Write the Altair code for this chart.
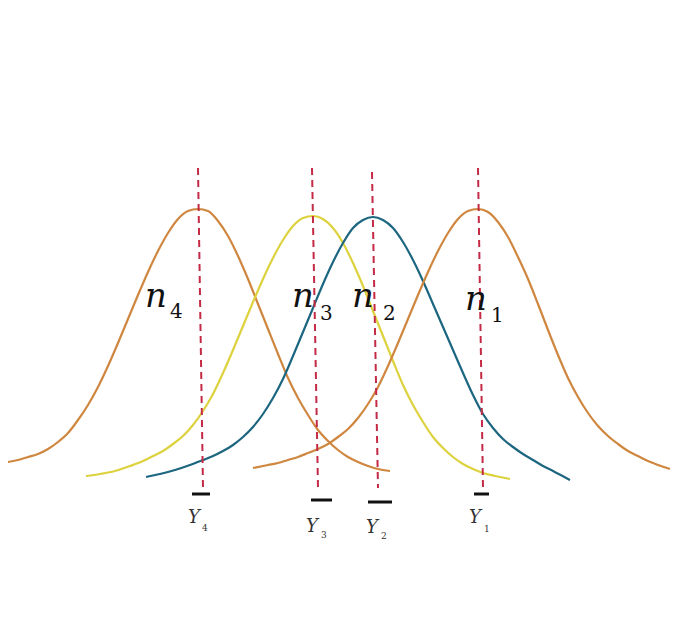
import altair as alt
import pandas as pd

# ---- curve samples (x, y in picture pixels, y downward) ----
x_n4 = [0, 8, 18, 28, 38, 48, 58, 68, 78, 88, 98, 108, 118, 128, 138, 148, 158, 168, 178, 188, 198,
        208, 218, 228, 238, 248, 258, 268, 278, 288, 298, 308, 318, 328, 338, 348, 358, 368, 378, 390]
y_n4 = [463, 462, 460, 457, 454, 449, 442, 433, 420, 405, 387, 366, 343, 319, 295, 272, 251, 233, 219, 211, 209,
        211, 221, 236, 256, 279, 304, 329, 354, 378, 398, 415, 430, 441, 450, 457, 462, 466, 469, 471]

x_n3 = [86, 100, 115, 130, 143, 153, 163, 173, 183, 193, 203, 213, 223, 233, 243, 253, 263, 273, 283, 293, 303, 313,
        323, 333, 343, 353, 363, 373, 383, 393, 403, 413, 423, 433, 443, 453, 463, 473, 483, 495, 510]
y_n3 = [476, 474, 471, 466, 461, 456, 451, 444, 436, 425, 411, 394, 373, 350, 326, 302, 279, 258, 240, 226, 218, 216,
        219, 228, 243, 263, 286, 311, 336, 361, 385, 405, 422, 437, 448, 457, 464, 469, 473, 476, 479]

x_n2 = [146, 160, 175, 190, 203, 213, 223, 233, 243, 253, 263, 273, 283, 293, 303, 313, 323, 333, 343, 353, 363, 373,
        383, 393, 403, 413, 423, 433, 443, 453, 463, 473, 483, 493, 503, 513, 523, 533, 543, 553, 570]
y_n2 = [477, 474, 470, 465, 460, 456, 451, 445, 437, 427, 414, 398, 379, 356, 332, 308, 284, 262, 243, 228, 220, 217,
        220, 228, 242, 260, 281, 304, 327, 350, 373, 395, 414, 428, 439, 447, 454, 460, 466, 471, 480]

x_n1 = [253, 268, 278, 288, 298, 308, 318, 328, 338, 348, 358, 368, 378, 388, 398, 408, 418, 428, 438, 448, 458, 468, 478,
        488, 498, 508, 518, 528, 538, 548, 558, 568, 578, 588, 598, 608, 618, 628, 638, 648, 658, 670]
y_n1 = [468, 465, 463, 460, 457, 453, 449, 444, 437, 429, 418, 404, 387, 366, 343, 319, 295, 272, 251, 233, 219, 211, 209,
        212, 222, 237, 257, 279, 304, 330, 355, 378, 397, 413, 426, 436, 444, 451, 456, 461, 465, 469]

curve_names = ["n4", "n3", "n2", "n1"]
curve_colors = ["#CF8740", "#DDD23E", "#1D6680", "#CF8740"]

# dashed mean lines
mean_top_x = [198, 312, 372, 478]
mean_bot_x = [203, 318, 378, 483]
mean_top_y = [168, 168, 172, 168]
mean_bot_y = [488, 488, 488, 488]

# overbars of the Y means
bar_x1 = [192, 311, 368, 474]
bar_x2 = [210, 332, 392, 489]
bar_y = [494, 500, 502, 494]

# n labels
n_text = ["n", "n", "n", "n"]
n_x = [145, 292, 352, 465]
n_y = [307, 307, 307, 310]
n_sub = ["4", "3", "2", "1"]
n_sub_x = [170, 320, 383, 491]
n_sub_y = [318, 320, 320, 322]

# Y labels
y_text = ["Y", "Y", "Y", "Y"]
y_x = [188, 306, 366, 469]
y_y = [523, 532, 533, 523]
y_sub = ["4", "3", "2", "1"]
y_sub_x = [202, 321, 381, 484]
y_sub_y = [531, 538, 539, 532]

# ---- build tables ----
rows = []
for name, xs_, ys_ in [("n4", x_n4, y_n4), ("n3", x_n3, y_n3), ("n2", x_n2, y_n2), ("n1", x_n1, y_n1)]:
    for i, (a, b) in enumerate(zip(xs_, ys_)):
        rows.append({"curve": name, "x": a, "y": b, "order": i})
curves = pd.DataFrame(rows)

means = pd.DataFrame({"x": mean_top_x, "x2": mean_bot_x, "y": mean_top_y, "y2": mean_bot_y})
bars = pd.DataFrame({"x": bar_x1, "x2": bar_x2, "y": bar_y})
nlab = pd.DataFrame({"t": n_text, "x": n_x, "y": n_y})
nsub = pd.DataFrame({"t": n_sub, "x": n_sub_x, "y": n_sub_y})
ylab = pd.DataFrame({"t": y_text, "x": y_x, "y": y_y})
ysub = pd.DataFrame({"t": y_sub, "x": y_sub_x, "y": y_sub_y})

xs = alt.Scale(domain=[8, 682], nice=False, zero=False)
ys = alt.Scale(domain=[8, 625], nice=False, zero=False, reverse=True)


def X(f="x"):
    return alt.X(f"{f}:Q", scale=xs, axis=None)


def Y(f="y"):
    return alt.Y(f"{f}:Q", scale=ys, axis=None)


layers = []
for name, col in zip(curve_names, curve_colors):
    layers.append(
        alt.Chart(curves[curves.curve == name]).mark_line(
            color=col, strokeWidth=2.2, interpolate="monotone", clip=True
        ).encode(x=X(), y=Y(), order="order:Q")
    )

rules = alt.Chart(means).mark_rule(color="#C42A45", strokeWidth=2, strokeDash=[7, 5]).encode(
    x=X(), x2="x2:Q", y=Y(), y2="y2:Q"
)
overbars = alt.Chart(bars).mark_rule(color="#111111", strokeWidth=3).encode(
    x=X(), x2="x2:Q", y=Y()
)

font = "DejaVu Serif"
t_n = alt.Chart(nlab).mark_text(font=font, fontSize=34, fontStyle="italic", align="left",
                                baseline="alphabetic", color="#111111").encode(x=X(), y=Y(), text="t:N")
t_ns = alt.Chart(nsub).mark_text(font=font, fontSize=20, align="left",
                                 baseline="alphabetic", color="#111111").encode(x=X(), y=Y(), text="t:N")
t_y = alt.Chart(ylab).mark_text(font=font, fontSize=18, fontStyle="italic", align="left",
                                baseline="alphabetic", color="#333333").encode(x=X(), y=Y(), text="t:N")
t_ys = alt.Chart(ysub).mark_text(font=font, fontSize=9, align="left",
                                 baseline="alphabetic", color="#333333").encode(x=X(), y=Y(), text="t:N")

chart = alt.layer(*layers, rules, overbars, t_n, t_ns, t_y, t_ys).properties(
    width=674, height=617, padding=0, background="white",
    autosize=alt.AutoSizeParams(type="none")
).configure_view(strokeWidth=0, stroke="transparent")

chart.save("out.html", embed_options={"renderer": "svg", "actions": False})
